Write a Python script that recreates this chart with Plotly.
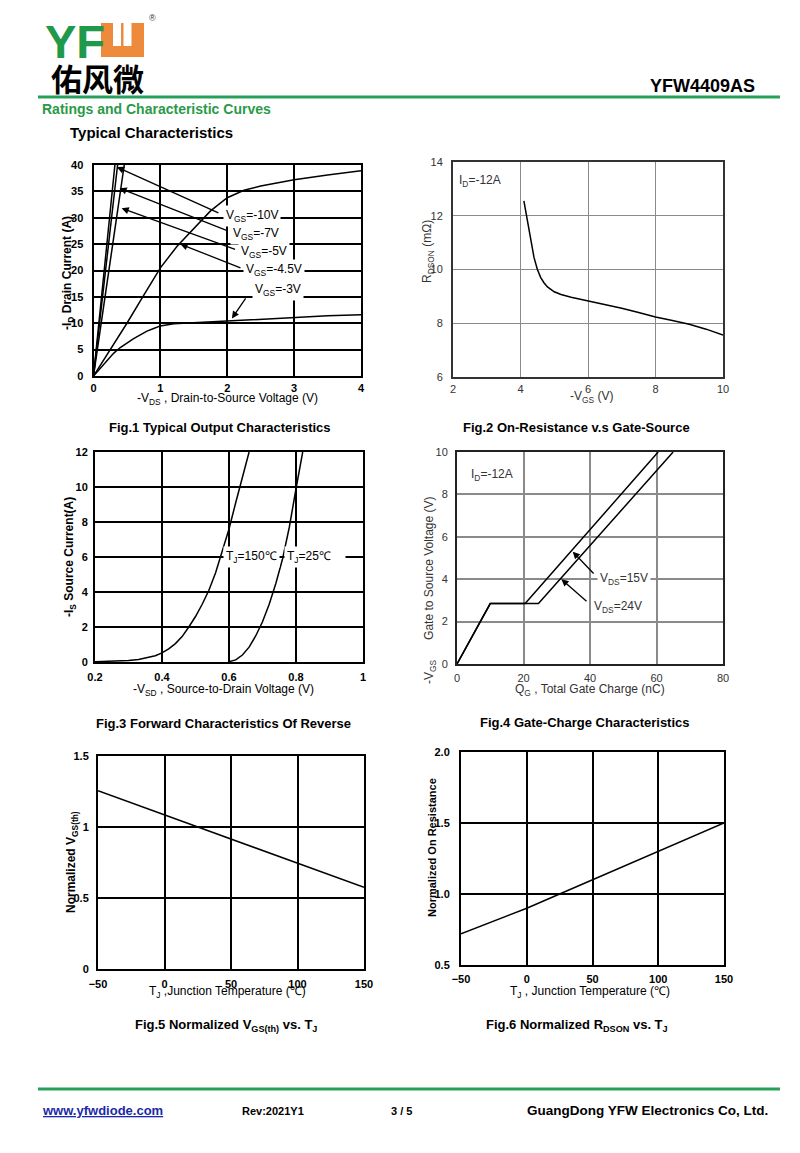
import plotly.graph_objects as go

W, H = 800, 1153

# ---------------- data ----------------
# Fig.1 Typical Output Characteristics  (-VDS [V], -ID [A])
f1_vgs10_x = [0, 0.16, 0.32]
f1_vgs10_y = [0, 20, 40]
f1_vgs7_x = [0, 0.18, 0.36]
f1_vgs7_y = [0, 20, 40]
f1_vgs5_x = [0, 0.23, 0.46]
f1_vgs5_y = [0, 20, 40]
f1_vgs45_x = [0, 0.25, 0.5, 0.75, 1.0, 1.25, 1.5, 1.75, 2.0, 2.25, 2.5, 3.0, 3.5, 4.0]
f1_vgs45_y = [0, 5.0, 10.0, 15.3, 20.5, 24.6, 28.0, 31.3, 33.8, 35.2, 36.0, 37.2, 38.1, 38.9]
f1_vgs3_x = [0, 0.1, 0.2, 0.3, 0.4, 0.5, 0.6, 0.7, 0.8, 0.9, 1.0, 1.2, 1.5, 2.0, 2.5, 3.0, 3.5, 4.0]
f1_vgs3_y = [0, 1.5, 3.0, 4.3, 5.4, 6.3, 7.1, 7.8, 8.5, 9.0, 9.5, 9.9, 10.1, 10.4, 10.8, 11.1, 11.4, 11.6]
f1_labels = ["V<sub>GS</sub>=-10V", "V<sub>GS</sub>=-7V", "V<sub>GS</sub>=-5V",
             "V<sub>GS</sub>=-4.5V", "V<sub>GS</sub>=-3V"]
f1_label_x = [1.93, 2.04, 2.16, 2.24, 2.37]
f1_label_y = [30.4, 26.9, 23.6, 20.1, 16.3]
f1_arrow_tail_x = [1.89, 2.03, 2.14, 2.22, 2.29]
f1_arrow_tail_y = [30.8, 27.4, 23.9, 20.4, 15.0]
f1_arrow_head_x = [0.35, 0.39, 0.42, 1.30, 2.07]
f1_arrow_head_y = [39.6, 35.6, 31.8, 25.0, 10.9]

# Fig.2 On-Resistance vs Gate-Source  (-VGS [V], RDSON [mOhm])
f2_vgs = [4.1, 4.2, 4.3, 4.4, 4.5, 4.6, 4.7, 4.8, 5.0, 5.2, 5.5, 6.0, 6.5, 7.0, 7.5, 8.0, 8.5, 9.0, 9.5, 10.0]
f2_rds = [12.55, 11.85, 11.1, 10.45, 10.0, 9.7, 9.5, 9.35, 9.17, 9.07, 8.97, 8.84, 8.7, 8.56, 8.4, 8.23, 8.1, 7.96, 7.78, 7.56]

# Fig.3 Forward characteristics of reverse diode (-VSD [V], -IS [A])
f3_t150_v = [0.2, 0.25, 0.3, 0.33, 0.36, 0.38, 0.4, 0.42, 0.44, 0.46, 0.48, 0.5, 0.52, 0.54, 0.56, 0.58, 0.6, 0.62, 0.64, 0.66]
f3_t150_i = [0.02, 0.04, 0.08, 0.14, 0.25, 0.36, 0.52, 0.75, 1.05, 1.45, 2.0, 2.6, 3.3, 4.1, 5.1, 6.3, 7.6, 9.1, 10.6, 12.0]
f3_t25_v = [0.6, 0.62, 0.64, 0.66, 0.68, 0.7, 0.72, 0.74, 0.76, 0.78, 0.8, 0.81, 0.82]
f3_t25_i = [0.02, 0.12, 0.4, 0.85, 1.5, 2.3, 3.3, 4.5, 5.9, 7.7, 9.9, 11.0, 12.0]
f3_labels = ["T<sub>J</sub>=150℃", "T<sub>J</sub>=25℃"]
f3_label_x = [0.583, 0.765]
f3_label_y = [6, 6]

# Fig.4 Gate charge (QG [nC], -VGS [V])
f4_q15 = [0, 10, 20.5, 60.5]
f4_v15 = [0, 2.85, 2.85, 10]
f4_q24 = [0, 10, 24.5, 65]
f4_v24 = [0, 2.85, 2.85, 10]
f4_labels = ["V<sub>DS</sub>=15V", "V<sub>DS</sub>=24V"]
f4_label_x = [42.0, 40.3]
f4_label_y = [4.0, 2.7]
f4_arrow_tail_x = [41.5, 39.4]
f4_arrow_tail_y = [4.2, 2.9]
f4_arrow_head_x = [34.8, 31.4]
f4_arrow_head_y = [5.3, 4.0]

# Fig.5 Normalized VGS(th) vs TJ
f5_tj = [-50, 0, 25, 50, 100, 150]
f5_v = [1.255, 1.085, 1.0, 0.915, 0.745, 0.575]

# Fig.6 Normalized RDSON vs TJ
f6_tj = [-50, 0, 25, 50, 100, 150]
f6_r = [0.72, 0.9, 1.0, 1.1, 1.3, 1.5]

# ---------------- helpers ----------------
def px(x):
    return x / W

def py(y):
    return 1 - y / H

FONT = "Liberation Sans, Arial, sans-serif"
GREEN = "#27a05a"

fig = go.Figure()
annotations = []
shapes = []

def txt(x, y, text, size=12, bold=False, color="black", xanchor="center", yanchor="middle",
        angle=0, family=FONT):
    annotations.append(dict(
        x=px(x), y=py(y), xref="paper", yref="paper", text=text, showarrow=False,
        xanchor=xanchor, yanchor=yanchor, textangle=angle,
        font=dict(family=family, size=size, color=color, weight="bold" if bold else "normal")))

def line(x0, y0, x1, y1, color, width):
    shapes.append(dict(type="line", xref="paper", yref="paper",
                       x0=px(x0), y0=py(y0), x1=px(x1), y1=py(y1),
                       line=dict(color=color, width=width)))

def rect(x0, y0, x1, y1, color):
    shapes.append(dict(type="rect", xref="paper", yref="paper",
                       x0=px(x0), y0=py(y0), x1=px(x1), y1=py(y1),
                       line=dict(width=0), fillcolor=color))

def axes(n, xr, yr, xdom, ydom, xdt, ydt, grid="black", frame="black", gw=1.5,
         tickbold=True, tickcolor="black", ticksize=11, xstand=5, ystand=7,
         xtickvals=None, xticktext=None, ytickvals=None, yticktext=None):
    sfx = "" if n == 1 else str(n)
    tf = dict(family=FONT, size=ticksize, color=tickcolor, weight="bold" if tickbold else "normal")
    xa = dict(domain=[px(xdom[0]), px(xdom[1])], anchor="y" + sfx, range=xr,
              showgrid=True, gridcolor=grid, gridwidth=gw, zeroline=False,
              showline=True, mirror=True, linecolor=frame, linewidth=2,
              ticks="", tickfont=tf, ticklabelstandoff=xstand, fixedrange=True,
              automargin=False)
    ya = dict(domain=[py(ydom[1]), py(ydom[0])], anchor="x" + sfx, range=yr,
              showgrid=True, gridcolor=grid, gridwidth=gw, zeroline=False,
              showline=True, mirror=True, linecolor=frame, linewidth=2,
              ticks="", tickfont=tf, ticklabelstandoff=ystand, fixedrange=True,
              automargin=False)
    if xtickvals is not None:
        xa.update(tickmode="array", tickvals=xtickvals, ticktext=xticktext)
    else:
        xa.update(tick0=xr[0], dtick=xdt)
    if ytickvals is not None:
        ya.update(tickmode="array", tickvals=ytickvals, ticktext=yticktext)
    else:
        ya.update(tick0=yr[0], dtick=ydt)
    return {"xaxis" + sfx: xa, "yaxis" + sfx: ya}

def trace(n, x, y, width=1.5):
    sfx = "" if n == 1 else str(n)
    fig.add_trace(go.Scatter(x=x, y=y, mode="lines", xaxis="x" + sfx, yaxis="y" + sfx,
                             line=dict(color="black", width=width), showlegend=False,
                             hoverinfo="skip"))

def data_label(n, x, y, text, size=12, color="black", bg="white", width=None):
    sfx = "" if n == 1 else str(n)
    a = dict(x=x, y=y, xref="x" + sfx, yref="y" + sfx, text=text, showarrow=False,
             xanchor="left", yanchor="middle", bgcolor=bg, borderpad=2,
             font=dict(family=FONT, size=size, color=color))
    if width is not None:
        a.update(width=width, align="left")
    annotations.append(a)

def data_arrow(n, x, y, ax, ay):
    sfx = "" if n == 1 else str(n)
    annotations.append(dict(x=x, y=y, ax=ax, ay=ay, xref="x" + sfx, yref="y" + sfx,
                            axref="x" + sfx, ayref="y" + sfx, text="", showarrow=True,
                            arrowhead=2, arrowsize=1.1, arrowwidth=1.3, arrowcolor="black",
                            standoff=0, startstandoff=0))

layout_axes = {}

# ---------------- Fig.1 ----------------
layout_axes.update(axes(1, [0, 4], [0, 40], (93.5, 361), (165, 376), 1, 5, xstand=1, ystand=6))
trace(1, f1_vgs10_x, f1_vgs10_y)
trace(1, f1_vgs7_x, f1_vgs7_y)
trace(1, f1_vgs5_x, f1_vgs5_y)
trace(1, f1_vgs45_x, f1_vgs45_y)
trace(1, f1_vgs3_x, f1_vgs3_y)
for i in range(len(f1_labels)):
    data_arrow(1, f1_arrow_head_x[i], f1_arrow_head_y[i], f1_arrow_tail_x[i], f1_arrow_tail_y[i])
for i in range(len(f1_labels)):
    data_label(1, f1_label_x[i], f1_label_y[i], f1_labels[i], size=12)
txt(228, 399, "-V<sub>DS</sub> , Drain-to-Source Voltage (V)", size=12)
txt(68, 273, "-I<sub>D</sub> Drain Current (A)", size=12, bold=True, angle=-90)
txt(220, 427, "Fig.1 Typical Output Characteristics", size=13, bold=True)

# ---------------- Fig.2 ----------------
layout_axes.update(axes(2, [2, 10], [6, 14], (453, 723), (162, 377), 2, 2, grid="#8a8a8a", frame="#333333",
                        gw=1, tickbold=False, tickcolor="#333333", ticksize=11, xstand=1, ystand=6))
trace(2, f2_vgs, f2_rds)
data_label(2, 2.1, 13.28, "I<sub>D</sub>=-12A", size=12, color="#333333", bg="rgba(0,0,0,0)")
txt(591, 397, "-V<sub>GS</sub> (V)", size=12, color="#333333")
txt(428, 252, "R<sub>DSON</sub> (mΩ)", size=12, color="#333333", angle=-90)
txt(576, 427, "Fig.2 On-Resistance v.s Gate-Source", size=13, bold=True)

# ---------------- Fig.3 ----------------
layout_axes.update(axes(3, [0.2, 1], [0, 12], (95, 363), (452, 662), 0.2, 2, xstand=4, ystand=3,
                        xtickvals=[0.2, 0.4, 0.6, 0.8, 1.0], xticktext=["0.2", "0.4", "0.6", "0.8", "1"]))
trace(3, f3_t150_v, f3_t150_i)
trace(3, f3_t25_v, f3_t25_i)
data_label(3, f3_label_x[0], f3_label_y[0], f3_labels[0], size=12)
data_label(3, f3_label_x[1], f3_label_y[1], f3_labels[1], size=12, width=56)
txt(223, 690, "-V<sub>SD</sub> , Source-to-Drain Voltage (V)", size=12)
txt(70, 557, "-I<sub>S</sub> Source Current(A)", size=12, bold=True, angle=-90)
txt(223, 723, "Fig.3 Forward Characteristics Of Reverse", size=13, bold=True)

# ---------------- Fig.4 ----------------
layout_axes.update(axes(4, [0, 80], [0, 10], (457, 723), (452, 664), 20, 2, grid="#8a8a8a", frame="#222222",
                        gw=1.5, tickbold=False, tickcolor="#333333", ticksize=11, xstand=3, ystand=5))
trace(4, f4_q15, f4_v15)
trace(4, f4_q24, f4_v24)
for i in range(len(f4_labels)):
    data_arrow(4, f4_arrow_head_x[i], f4_arrow_head_y[i], f4_arrow_tail_x[i], f4_arrow_tail_y[i])
for i in range(len(f4_labels)):
    data_label(4, f4_label_x[i], f4_label_y[i], f4_labels[i], size=12, color="#333333")
data_label(4, 3.2, 8.93, "I<sub>D</sub>=-12A", size=12, color="#333333", bg="rgba(0,0,0,0)")
txt(590, 690, "Q<sub>G</sub> , Total Gate Charge (nC)", size=12, color="#333333")
txt(430, 590, "-V<sub>GS</sub>      Gate to Source Voltage (V)", size=12, color="#333333", angle=-90)
txt(585, 722, "Fig.4 Gate-Charge Characteristics", size=13, bold=True)

# ---------------- Fig.5 ----------------
layout_axes.update(axes(5, [-50, 150], [0, 1.5], (98, 364), (756, 969), 50, 0.5, xstand=4, ystand=5,
                        ytickvals=[0, 0.5, 1, 1.5], yticktext=["0", "0.5", "1", "1.5"]))
trace(5, f5_tj, f5_v)
txt(227, 992, "T<sub>J</sub> ,Junction Temperature (℃)", size=12)
txt(72, 862, "Normalized V<sub>GS(th)</sub>", size=12, bold=True, angle=-90)
txt(226, 1025, "Fig.5 Normalized V<sub>GS(th)</sub> vs. T<sub>J</sub>", size=13, bold=True)

# ---------------- Fig.6 ----------------
layout_axes.update(axes(6, [-50, 150], [0.5, 2.0], (461, 724), (752, 965), 50, 0.5, xstand=3, ystand=7,
                        ytickvals=[0.5, 1.0, 1.5, 2.0], yticktext=["0.5", "1.0", "1.5", "2.0"]))
trace(6, f6_tj, f6_r)
txt(590, 992, "T<sub>J</sub> , Junction Temperature (℃)", size=12)
txt(432, 848, "Normalized On Resistance", size=11, bold=True, angle=-90)
txt(577, 1025, "Fig.6 Normalized R<sub>DSON</sub> vs. T<sub>J</sub>", size=13, bold=True)

# ---------------- header ----------------
txt(43, 41, "YF", size=47, bold=True, color="#1f9a4a", xanchor="left")
rect(101, 23, 144, 57, "#ee8a3c")
rect(113, 23, 121, 46, "white")
rect(123.5, 23, 131.5, 46, "white")
txt(152, 18, "®", size=9, color="#333333")
txt(97, 78, "佑风微", size=31, bold=True, family="Noto Sans CJK SC")
txt(757, 86, "YFW4409AS", size=18, bold=True, xanchor="right")
line(38, 97, 780, 97, GREEN, 3)
txt(40, 109, "Ratings and Characteristic Curves", size=14, bold=True, color="#2a9a48", xanchor="left")
txt(68, 132, "Typical Characteristics", size=15, bold=True, xanchor="left")

# ---------------- footer ----------------
line(38, 1089, 780, 1089, GREEN, 3)
txt(40, 1110, "<u>www.yfwdiode.com</u>", size=13, bold=True, color="#1a2aa8", xanchor="left")
txt(240, 1111, "Rev:2021Y1", size=11, bold=True, xanchor="left")
txt(402, 1111, "3 / 5", size=11, bold=True)
txt(770, 1110, "GuangDong YFW Electronics Co, Ltd.", size=13.5, bold=True, xanchor="right")

fig.update_layout(
    width=W, height=H, autosize=False,
    margin=dict(l=0, r=0, t=0, b=0, autoexpand=False),
    paper_bgcolor="white", plot_bgcolor="white",
    showlegend=False,
    annotations=annotations, shapes=shapes,
    **layout_axes,
)

fig.write_html("out.html", config={"displayModeBar": False},
               post_script="document.body.style.margin='0px';document.body.style.overflow='hidden';")
